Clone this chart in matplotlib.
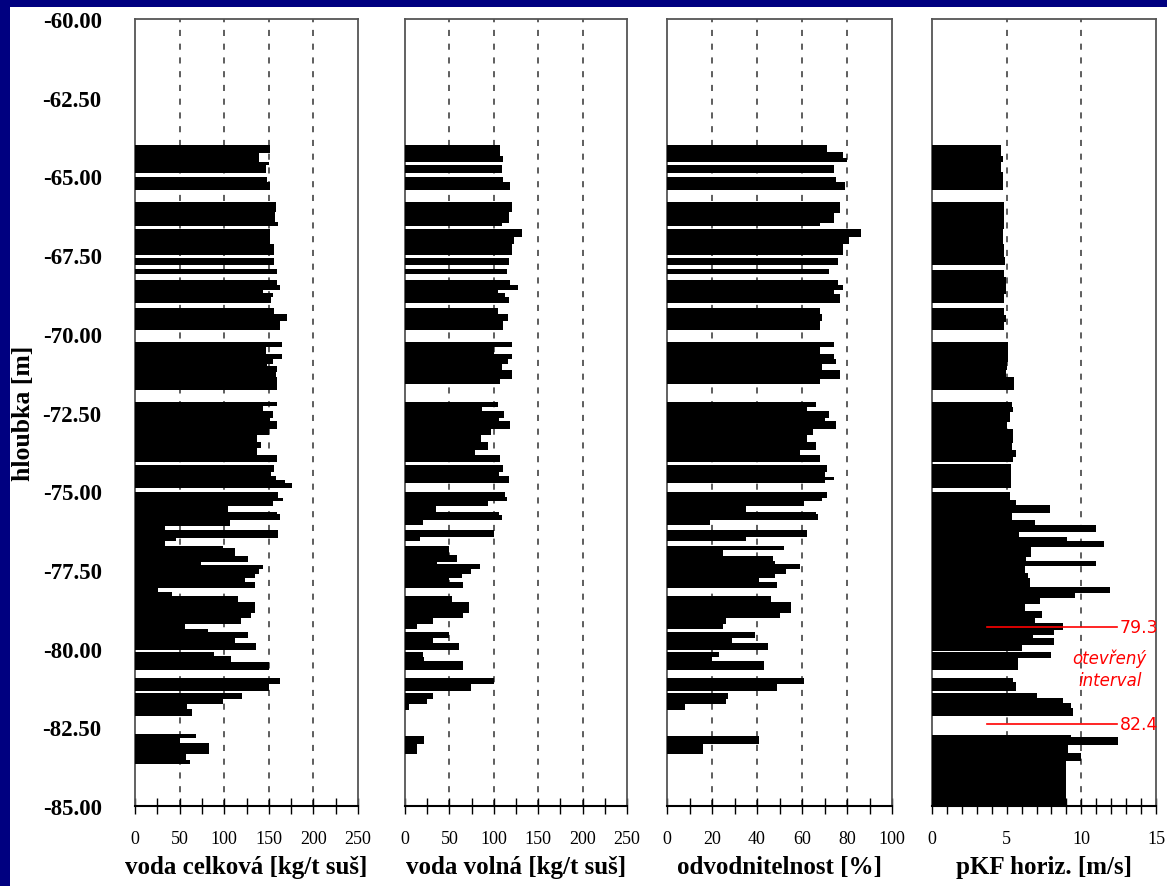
import numpy as np
import matplotlib
matplotlib.use("Agg")
import matplotlib.pyplot as plt
from matplotlib.patches import Rectangle
from matplotlib.ticker import MultipleLocator, FormatStrFormatter

nan = np.nan

# depth of the top of each interval [m], value for that interval, nan = no sample
# voda celkova [kg/t]
vc_top = [-64.00, -64.25, -64.55, -64.65, -64.89, -65.03, -65.18, -65.43, -65.82, -66.13,
          -66.45, -66.56, -66.66, -67.14, -67.49, -67.59, -67.83, -67.95, -68.11, -68.30,
          -68.46, -68.62, -68.69, -68.83, -69.01, -69.18, -69.36, -69.60, -69.89, -70.26,
          -70.42, -70.63, -70.79, -70.95, -71.02, -71.21, -71.37, -71.79, -72.16, -72.30,
          -72.46, -72.67, -72.78, -73.01, -73.20, -73.43, -73.64, -73.86, -74.06, -74.17,
          -74.38, -74.51, -74.65, -74.75, -74.91, -75.04, -75.21, -75.31, -75.46, -75.65,
          -75.74, -75.92, -76.10, -76.23, -76.50, -76.58, -76.74, -76.82, -77.05, -77.26,
          -77.34, -77.47, -77.63, -77.77, -77.89, -78.06, -78.19, -78.32, -78.51, -78.88,
          -79.04, -79.22, -79.37, -79.48, -79.67, -79.83, -80.06, -80.11, -80.25, -80.41,
          -80.68, -80.92, -81.13, -81.36, -81.42, -81.60, -81.76, -81.91, -82.13, -82.72,
          -82.84, -83.00, -83.35, -83.53]
vc_val = [151, 139, 150, 147, nan, 148, 151, nan, 158, 157,
          160, nan, 151, 156, nan, 156, nan, 159, nan, 159,
          163, 144, 155, 153, nan, 156, 170, 163, nan, 165,
          147, 165, 155, 148, 159, 158, 159, nan, 159, 143,
          155, 151, 159, 150, 137, 141, 137, 159, nan, 156,
          153, 158, 168, 176, nan, 160, 166, 155, 104, 159,
          163, 106, 34, 160, 46, 34, 99, 112, 127, 74,
          144, 139, 134, 123, 134, 26, 41, 115, 134, 130,
          119, 56, 82, 127, 112, 136, nan, 89, 108, 150,
          nan, 162, 150, nan, 120, 99, 58, 64, nan, 68,
          50, 83, 57, 62]
vc_end = -83.67

# voda volna [kg/t]
vv_top = [-64.00, -64.36, -64.55, -64.63, -64.89, -65.03, -65.18, -65.43, -65.82, -66.13,
          -66.47, -66.56, -66.66, -66.93, -67.14, -67.49, -67.59, -67.83, -67.95, -68.11,
          -68.30, -68.44, -68.62, -68.69, -68.83, -69.01, -69.18, -69.36, -69.60, -69.89,
          -70.26, -70.42, -70.63, -70.79, -70.95, -71.16, -71.42, -71.61, -72.16, -72.32,
          -72.46, -72.67, -72.78, -73.01, -73.20, -73.43, -73.70, -73.86, -74.06, -74.17,
          -74.38, -74.51, -74.75, -75.04, -75.18, -75.31, -75.46, -75.65, -75.76, -75.92,
          -76.08, -76.23, -76.44, -76.58, -76.74, -77.03, -77.24, -77.32, -77.47, -77.63,
          -77.77, -77.89, -78.06, -78.32, -78.51, -78.86, -79.04, -79.22, -79.37, -79.48,
          -79.67, -79.83, -80.06, -80.11, -80.26, -80.40, -80.68, -80.92, -81.13, -81.36,
          -81.42, -81.60, -81.76, -81.94, -82.79, -83.03]
vv_val = [107, 110, nan, 109, nan, 110, 118, nan, 120, 117,
          109, nan, 132, 123, 120, nan, 117, nan, 115, nan,
          118, 127, 105, 113, 117, nan, 105, 116, 110, nan,
          121, 100, 121, 116, 109, 121, 107, nan, 105, 87,
          112, 106, 118, 97, 86, 93, 79, 107, nan, 110,
          106, 117, nan, 113, 115, 94, 35, 106, 109, 20,
          nan, 100, 17, nan, 50, 59, 36, 85, 74, 64,
          50, 65, nan, 53, 72, 65, 31, 14, nan, 49,
          32, 61, nan, 20, 21, 65, nan, 100, 74, nan,
          32, 25, 5, nan, 21, 14]
vv_end = -83.35

# odvodnitelnost [%]
od_top = [-64.00, -64.23, -64.42, -64.55, -64.63, -64.89, -65.03, -65.18, -65.43, -65.82,
          -66.15, -66.47, -66.56, -66.66, -66.93, -67.14, -67.49, -67.59, -67.83, -67.95,
          -68.11, -68.30, -68.44, -68.62, -68.74, -69.01, -69.18, -69.36, -69.60, -69.89,
          -70.26, -70.42, -70.63, -70.79, -70.95, -71.16, -71.42, -71.61, -72.16, -72.32,
          -72.46, -72.67, -72.78, -73.01, -73.20, -73.43, -73.70, -73.86, -74.06, -74.17,
          -74.38, -74.54, -74.65, -74.75, -75.04, -75.21, -75.31, -75.46, -75.65, -75.74,
          -75.92, -76.08, -76.23, -76.47, -76.58, -76.74, -76.87, -77.05, -77.22, -77.32,
          -77.47, -77.63, -77.77, -77.89, -78.06, -78.32, -78.51, -78.86, -79.04, -79.22,
          -79.37, -79.48, -79.67, -79.83, -80.06, -80.12, -80.28, -80.40, -80.68, -80.92,
          -81.13, -81.36, -81.42, -81.60, -81.76, -81.94, -82.79, -83.03]
od_val = [71, 78, 80, nan, 74, nan, 75, 79, nan, 77,
          74, 68, nan, 86, 81, 78, nan, 76, nan, 72,
          nan, 76, 78, 74, 77, nan, 68, 69, 68, nan,
          74, 68, 74, 75, 69, 77, 68, nan, 66, 62,
          72, 70, 75, 65, 62, 66, 59, 68, nan, 71,
          70, 74, 70, nan, 71, 69, 61, 35, 66, 67,
          19, nan, 62, 35, nan, 52, 25, 47, 48, 59,
          53, 48, 41, 49, nan, 46, 55, 50, 26, 25,
          nan, 39, 29, 45, nan, 23, 20, 43, nan, 61,
          49, nan, 27, 26, 8, nan, 41, 16]
od_end = -83.35

# pKF horiz. [m/s]
kf_top = [-64.00, -64.34, -64.55, -64.86, -65.43, -65.82, -66.66, -67.14, -67.56, -67.83,
          -67.98, -68.20, -68.73, -69.01, -69.18, -69.41, -69.62, -69.89, -70.26, -70.90,
          -71.16, -71.37, -71.79, -72.16, -72.32, -72.48, -72.80, -73.01, -73.48, -73.70,
          -73.91, -74.06, -74.15, -74.91, -75.04, -75.28, -75.44, -75.70, -75.92, -76.08,
          -76.29, -76.44, -76.58, -76.76, -77.08, -77.22, -77.37, -77.61, -77.77, -78.03,
          -78.22, -78.38, -78.59, -78.82, -79.04, -79.18, -79.41, -79.57, -79.67, -79.88,
          -80.07, -80.11, -80.30, -80.68, -80.92, -81.07, -81.36, -81.42, -81.57, -81.73,
          -81.89, -82.15, -82.74, -82.82, -83.06, -83.32, -83.58]
kf_val = [4.6, 4.75, 4.6, 4.75, nan, 4.85, 4.75, 4.85, 4.9, nan,
          4.85, 4.95, 4.85, nan, 4.85, 4.95, 4.85, nan, 5.1, 5.0,
          4.95, 5.5, nan, 5.35, 5.45, 5.2, 5.0, 5.45, 5.35, 5.6,
          5.45, nan, 5.3, nan, 5.25, 5.6, 7.9, 5.35, 6.9, 11.0,
          5.8, 9.05, 11.55, 6.6, 6.3, 11.0, 6.2, 6.45, 6.55, 11.95,
          9.55, 7.2, 6.2, 7.35, 6.9, 8.8, 8.2, 6.75, 8.2, 6.05,
          nan, 7.95, 5.75, nan, 5.45, 5.6, nan, 7.05, 8.8, 9.3,
          9.45, nan, 9.3, 12.45, 9.1, 9.95, 8.95]
kf_end = -85.00

open_interval = [-79.3, -82.4]

plt.rcParams['font.family'] = 'serif'
plt.rcParams['font.serif'] = ['Liberation Serif', 'DejaVu Serif']

W, H = 1167, 887
fig = plt.figure(figsize=(W / 100, H / 100), dpi=100)
fig.patch.set_facecolor('#000080')
fig.patches.append(Rectangle((10 / W, 0), 1, (H - 8) / H, transform=fig.transFigure,
                             facecolor='white', edgecolor='none', zorder=-10))

panels = [
    (vc_top, vc_val, vc_end, 250, 50, 25, 'voda celková [kg/t suš]', 135, 223),
    (vv_top, vv_val, vv_end, 250, 50, 25, 'voda volná [kg/t suš]', 405, 222),
    (od_top, od_val, od_end, 100, 20, 10, 'odvodnitelnost [%]', 667, 225),
    (kf_top, kf_val, kf_end, 15, 5, 1, 'pKF horiz. [m/s]', 932, 224),
]

bottom = (H - 807) / H
height = 787 / H
axes = []
for i, (tops, vals, end, xmax, major, minor, label, left, width) in enumerate(panels):
    ax = fig.add_axes([left / W, bottom, width / W, height])
    ax.set_zorder(1)
    axes.append(ax)
    tops = np.array(tops)
    bots = np.append(tops[1:], end)
    vals = np.array(vals, dtype=float)
    ok = ~np.isnan(vals)
    ax.barh(bots[ok], vals[ok], height=(tops - bots)[ok], align='edge',
            color='black', linewidth=0, zorder=3)
    for g in np.arange(major, xmax, major):
        ax.axvline(g, color='#333333', lw=1.1, ls=(0, (4, 5)), zorder=1)
    ax.set_xlim(0, xmax)
    ax.set_ylim(-85, -60)
    ax.xaxis.set_major_locator(MultipleLocator(major))
    ax.xaxis.set_minor_locator(MultipleLocator(minor))
    ax.tick_params(axis='x', which='both', direction='inout', length=12, width=1,
                   labelsize=13, pad=11)
    ax.set_yticks(np.arange(-85, -59, 2.5))
    ax.yaxis.set_major_formatter(FormatStrFormatter('%.2f'))
    ax.tick_params(axis='y', length=0, pad=24)
    if i == 0:
        for t in ax.get_yticklabels():
            t.set_fontweight('bold')
            t.set_fontsize(16.5)
        ax.set_ylabel('hloubka [m]', fontsize=18.5, fontweight='bold')
        ax.yaxis.set_label_coords(-0.448, 0.5)
    else:
        ax.set_yticklabels([])
    ax.set_xlabel(label, fontsize=18, fontweight='bold', labelpad=6)
    for side in ['top', 'right', 'left']:
        ax.spines[side].set_color('#555555')
        ax.spines[side].set_linewidth(1.3)
    ax.spines['bottom'].set_linewidth(1.5)
    ax.patch.set_alpha(0)

# open interval markers on the pKF panel
ax4 = axes[3]
for d in open_interval:
    ax4.plot([3.67, 12.4], [d, d], color='red', lw=1.2, zorder=5, clip_on=False)
    ax4.text(12.55, d, f'{-d:.1f}', color='red', fontsize=12.5, family='DejaVu Sans',
             va='center', ha='left', zorder=6, clip_on=False)
ax4.text(11.9, -80.3, 'otevřený', color='red', fontsize=12, family='DejaVu Sans',
         style='italic', ha='center', va='center', zorder=6)
ax4.text(11.9, -81.0, 'interval', color='red', fontsize=12, family='DejaVu Sans',
         style='italic', ha='center', va='center', zorder=6)

fig.savefig('out.png', dpi=100, facecolor=fig.get_facecolor())
